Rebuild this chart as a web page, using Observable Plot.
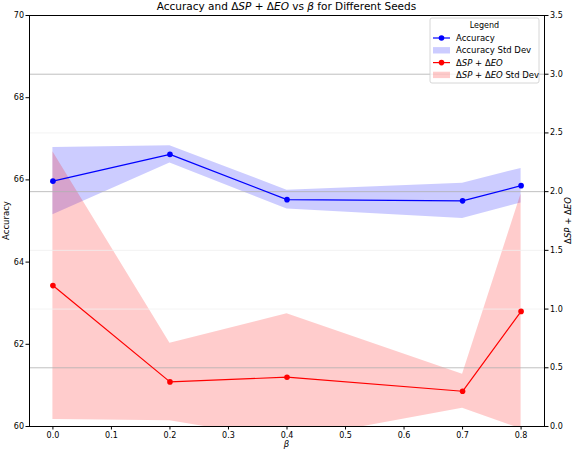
<!DOCTYPE html>
<html>
<head>
<meta charset="utf-8">
<script src="https://cdn.jsdelivr.net/npm/d3@7"></script>
<script src="https://cdn.jsdelivr.net/npm/@observablehq/plot@0.6"></script>
<style>
  body { margin: 0; background: #fff; }
  svg { font-family: "DejaVu Sans", sans-serif; }
</style>
</head>
<body>
<div id="chart"></div>
<script>
// values
const beta = [0.0, 0.2, 0.4, 0.7, 0.8];
const accuracy = [65.97, 66.62, 65.52, 65.49, 65.86];
const accStd = [0.82, 0.21, 0.23, 0.43, 0.42];
const fair = [1.20, 0.38, 0.42, 0.30, 0.98];      // ΔSP + ΔEO
const fairStd = [1.14, 0.33, 0.54, 0.145, 1.00];

const xTicks = [0, 0.1, 0.2, 0.3, 0.4, 0.5, 0.6, 0.7, 0.8];
const accTicks = [60, 62, 64, 66, 68, 70];
const fairTicks = [0, 0.5, 1.0, 1.5, 2.0, 2.5, 3.0, 3.5];
const gridStrong = [0.5, 2.0, 3.0];
const gridFaint = [1.0, 1.5, 2.5];

// right axis (0..3.5) placed on the left scale (60..70)
const toLeft = v => 60 + v * 10 / 3.5;
const fromLeft = d => (d - 60) * 3.5 / 10;

const rows = beta.map((b, i) => ({
  beta: b,
  acc: accuracy[i],
  accLo: accuracy[i] - accStd[i],
  accHi: accuracy[i] + accStd[i],
  fair: toLeft(fair[i]),
  fairLo: toLeft(fair[i] - fairStd[i]),
  fairHi: toLeft(fair[i] + fairStd[i])
}));

const chart = Plot.plot({
  width: 572,
  height: 452,
  marginLeft: 29,
  marginRight: 28,
  marginTop: 15,
  marginBottom: 26,
  style: {fontFamily: "DejaVu Sans", fontSize: "8px", background: "white", color: "black"},
  x: {domain: [-0.04, 0.84]},
  y: {domain: [60, 70]},
  marks: [
    Plot.areaY(rows, {x: "beta", y1: "accLo", y2: "accHi", fill: "blue", fillOpacity: 0.2, clip: true}),
    Plot.areaY(rows, {x: "beta", y1: "fairLo", y2: "fairHi", fill: "red", fillOpacity: 0.2, clip: true}),
    Plot.ruleY(gridFaint.map(toLeft), {stroke: "#f0f0f0", strokeWidth: 0.8}),
    Plot.ruleY(gridStrong.map(toLeft), {stroke: "#b0b0b0", strokeWidth: 0.8}),
    Plot.line(rows, {x: "beta", y: "acc", stroke: "blue", strokeWidth: 1.2}),
    Plot.dot(rows, {x: "beta", y: "acc", fill: "blue", r: 2.8}),
    Plot.line(rows, {x: "beta", y: "fair", stroke: "red", strokeWidth: 1.2}),
    Plot.dot(rows, {x: "beta", y: "fair", fill: "red", r: 2.8}),
    Plot.frame({stroke: "black", strokeWidth: 1}),
    Plot.axisX({ticks: xTicks, tickFormat: d => d.toFixed(1), tickSize: 3.5, tickPadding: 2, label: null}),
    Plot.axisY({anchor: "left", ticks: accTicks, tickFormat: d => String(d), tickSize: 3.5, tickPadding: 2, label: null}),
    Plot.axisY({anchor: "right", ticks: fairTicks.map(toLeft), tickFormat: d => fromLeft(d).toFixed(1), tickSize: 3.5, tickPadding: 2, label: null})
  ]
});

document.getElementById("chart").append(chart);

const svg = d3.select(chart);

// title with italic parts
const title = svg.append("text")
  .attr("x", 286.5).attr("y", 10)
  .attr("text-anchor", "middle")
  .attr("font-size", 10.5)
  .attr("fill", "black");
[["Accuracy and Δ", false], ["SP", true], [" + Δ", false], ["EO", true],
 [" vs ", false], ["β", true], [" for Different Seeds", false]].forEach(([t, it]) => {
  title.append("tspan").attr("font-style", it ? "italic" : "normal").text(t);
});

// axis labels
svg.append("text")
  .attr("transform", "translate(9,220.5) rotate(-90)")
  .attr("text-anchor", "middle").attr("font-size", 8.5).attr("fill", "black")
  .text("Accuracy");

const rl = svg.append("text")
  .attr("transform", "translate(571,220.5) rotate(-90)")
  .attr("text-anchor", "middle").attr("font-size", 8.5).attr("fill", "black");
[["Δ", false], ["SP", true], [" + Δ", false], ["EO", true]].forEach(([t, it]) => {
  rl.append("tspan").attr("font-style", it ? "italic" : "normal").text(t);
});

svg.append("text")
  .attr("x", 286.5).attr("y", 447)
  .attr("text-anchor", "middle").attr("font-size", 8.5).attr("font-style", "italic").attr("fill", "black")
  .text("β");

// legend
const lg = svg.append("g").attr("transform", "translate(430,18)");
lg.append("rect")
  .attr("width", 109).attr("height", 65).attr("rx", 2)
  .attr("fill", "white").attr("fill-opacity", 0.8)
  .attr("stroke", "#cccccc").attr("stroke-width", 0.8);
lg.append("text")
  .attr("x", 54.5).attr("y", 10).attr("text-anchor", "middle")
  .attr("font-size", 8).attr("fill", "black").text("Legend");

const entries = [
  {kind: "line", color: "blue", label: [["Accuracy", false]]},
  {kind: "patch", color: "blue", label: [["Accuracy Std Dev", false]]},
  {kind: "line", color: "red", label: [["Δ", false], ["SP", true], [" + Δ", false], ["EO", true]]},
  {kind: "patch", color: "red", label: [["Δ", false], ["SP", true], [" + Δ", false], ["EO", true], [" Std Dev", false]]}
];
entries.forEach((e, i) => {
  const y = 20 + i * 12.3;
  if (e.kind === "line") {
    lg.append("line").attr("x1", 3).attr("x2", 20).attr("y1", y).attr("y2", y)
      .attr("stroke", e.color).attr("stroke-width", 1.2);
    lg.append("circle").attr("cx", 11.5).attr("cy", y).attr("r", 2.8).attr("fill", e.color);
  } else {
    lg.append("rect").attr("x", 3).attr("y", y - 3.2).attr("width", 17).attr("height", 6.4)
      .attr("fill", e.color).attr("fill-opacity", 0.2);
  }
  const t = lg.append("text").attr("x", 26).attr("y", y + 3)
    .attr("text-anchor", "start")
    .attr("font-size", 8.5).attr("fill", "black");
  e.label.forEach(([s, it]) => t.append("tspan").attr("font-style", it ? "italic" : "normal").text(s));
});
</script>
</body>
</html>
